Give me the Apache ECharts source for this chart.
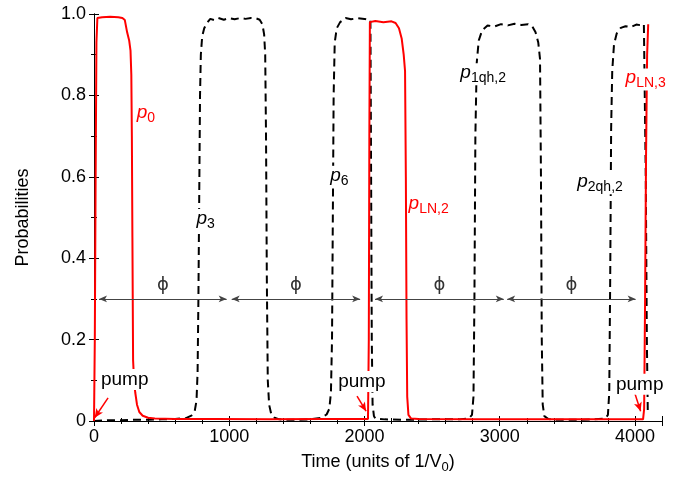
<!DOCTYPE html>
<html>
<head>
<meta charset="utf-8">
<script src="https://cdn.jsdelivr.net/npm/echarts@6/dist/echarts.min.js"></script>
<style>
  html, body { margin: 0; background: #fff; }
  #main { width: 680px; height: 479px; }
</style>
</head>
<body>
<div id="main"></div>
<script>
  // red curves: p0, p_LN,2, p_LN,3 (time in units of 1/V0)
  var redT = [0, 6, 12, 18, 25, 60, 120, 180, 210, 228, 245, 260, 270, 276, 280, 284, 289, 296, 305, 318,
    335, 360, 400, 450, 600, 900, 1300, 1700, 2000, 2026, 2032, 2036, 2040, 2080, 2140, 2200, 2230, 2255, 2275, 2290,
    2300, 2306, 2311, 2316, 2325, 2345, 2400, 2800, 3300, 3800, 4060, 4068, 4075, 4082, 4090, 4098];
  var redP = [0, 0.2, 0.6, 0.93, 0.99, 0.992, 0.993, 0.992, 0.99, 0.985, 0.955, 0.935, 0.91, 0.85, 0.7, 0.45, 0.15, 0.1, 0.07, 0.04,
    0.022, 0.013, 0.008, 0.006, 0.005, 0.005, 0.004, 0.005, 0.005, 0.005, 0.2, 0.7, 0.98, 0.983, 0.98, 0.982, 0.978, 0.965, 0.94, 0.9,
    0.86, 0.6, 0.25, 0.06, 0.015, 0.006, 0.005, 0.004, 0.004, 0.004, 0.004, 0.03, 0.3, 0.65, 0.9, 0.975];

  // black dashed curves: p3, p6, p_1qh,2, p_2qh,2
  var blackT = [0, 100, 200, 300, 400, 500, 600, 680, 720, 745, 758, 766, 772, 778, 784, 790, 800, 815, 835, 860,
    890, 920, 960, 1000, 1040, 1080, 1120, 1160, 1200, 1225, 1245, 1258, 1266, 1272, 1278, 1285, 1295, 1310, 1335, 1370,
    1420, 1500, 1600, 1680, 1720, 1740, 1752, 1760, 1766, 1772, 1780, 1795, 1820, 1860, 1900, 1950, 2000, 2044, 2049, 2054,
    2060, 2070, 2080, 2150, 2300, 2500, 2700, 2770, 2795, 2806, 2813, 2820, 2830, 2845, 2870, 2910, 2960, 3010, 3060, 3110,
    3160, 3210, 3240, 3265, 3285, 3298, 3305, 3311, 3318, 3330, 3360, 3420, 3550, 3700, 3780, 3800, 3810, 3817, 3824, 3832,
    3845, 3865, 3895, 3930, 3970, 4010, 4050, 4066, 4072, 4080, 4088, 4095];
  var blackP = [0, 0.002, 0.002, 0.003, 0.003, 0.004, 0.005, 0.007, 0.013, 0.025, 0.05, 0.12, 0.3, 0.55, 0.8, 0.9, 0.945, 0.965, 0.978, 0.988,
    0.985, 0.99, 0.986, 0.99, 0.987, 0.99, 0.988, 0.99, 0.989, 0.986, 0.975, 0.95, 0.9, 0.7, 0.35, 0.1, 0.04, 0.018, 0.008, 0.004,
    0.003, 0.003, 0.004, 0.008, 0.016, 0.03, 0.07, 0.2, 0.5, 0.8, 0.93, 0.965, 0.98, 0.99, 0.987, 0.99, 0.988, 0.985, 0.6, 0.2,
    0.04, 0.012, 0.006, 0.004, 0.003, 0.004, 0.004, 0.006, 0.015, 0.06, 0.3, 0.7, 0.88, 0.935, 0.96, 0.972, 0.969, 0.975, 0.972, 0.976,
    0.973, 0.975, 0.97, 0.955, 0.93, 0.89, 0.6, 0.2, 0.04, 0.012, 0.005, 0.003, 0.003, 0.004, 0.006, 0.015, 0.07, 0.35, 0.72, 0.86,
    0.925, 0.952, 0.966, 0.97, 0.968, 0.974, 0.972, 0.975, 0.975, 0.6, 0.2, 0.02];

  // phi spans (double arrows at p = 0.3)
  var phiSpans = [[37, 981], [1018, 1968], [2078, 3030], [3055, 4005]];
  var phiLevel = 0.3;

  // curve labels: [t, p, subscript, colour]
  var curveLabels = [
    [316, 0.754, '0', 'red'],
    [758, 0.494, '3', 'black'],
    [1747, 0.6, '6', 'black'],
    [2326, 0.531, 'LN,2', 'red'],
    [2709, 0.852, '1qh,2', 'black'],
    [3573, 0.584, '2qh,2', 'black'],
    [3931, 0.839, 'LN,3', 'red']
  ];

  // pump labels: text centre and arrow [from, to]
  var pumpText = [[227, 0.102], [1981, 0.097], [4035, 0.09]];
  var pumpArrows = [
    [[104, 0.057], [5, 0.008]],
    [[1945, 0.061], [2012, 0.024]],
    [[3999, 0.068], [4042, 0.024]]
  ];

  var font = '"Liberation Sans", Arial, sans-serif';

  function zip(a, b) {
    return a.map(function (v, i) { return [v, b[i]]; });
  }

  function labelItem(l) {
    return {
      coord: [l[0], l[1]],
      label: {
        formatter: '{p|p}{s|' + l[2] + '}',
        color: l[3],
        rich: {
          p: { fontStyle: 'italic', fontSize: 19, fontFamily: font, color: l[3], verticalAlign: 'top', lineHeight: 22 },
          s: { fontSize: 14, fontFamily: font, color: l[3], verticalAlign: 'bottom', lineHeight: 22, padding: [12, 0, 0, 0] }
        }
      }
    };
  }

  var chart = echarts.init(document.getElementById('main'));

  var tickStyle = { color: '#000', width: 1 };

  chart.setOption({
    animation: false,
    backgroundColor: '#fff',
    grid: { left: 94, right: 18, top: 14, bottom: 54 },
    xAxis: [{
      type: 'value',
      min: 0,
      max: 4200,
      interval: 1000,
      name: 'Time (units of 1/V{s|0})',
      nameLocation: 'middle',
      nameGap: 29,
      nameTextStyle: {
        color: '#000', fontSize: 18, fontFamily: font,
        rich: { s: { fontSize: 13, fontFamily: font, color: '#000', padding: [11, 0, 0, 0] } }
      },
      axisLine: { lineStyle: tickStyle },
      axisTick: { inside: true, length: 5, lineStyle: tickStyle },
      minorTick: { show: true, splitNumber: 5, length: 3, lineStyle: tickStyle },
      splitLine: { show: false },
      axisLabel: {
        color: '#000', fontSize: 18, fontFamily: font, margin: 7, showMaxLabel: false,
        formatter: function (v) { return String(v); }
      }
    }, {
      type: 'value',
      position: 'top',
      min: 0,
      max: 4200,
      interval: 1000,
      axisLine: { lineStyle: tickStyle },
      axisTick: { inside: true, length: 5, lineStyle: tickStyle },
      minorTick: { show: true, splitNumber: 5, length: 3, lineStyle: tickStyle },
      splitLine: { show: false },
      axisLabel: { show: false }
    }],
    yAxis: [{
      type: 'value',
      min: 0,
      max: 1,
      interval: 0.2,
      name: 'Probabilities',
      nameLocation: 'middle',
      nameGap: 62,
      nameTextStyle: { color: '#000', fontSize: 18, fontFamily: font },
      axisLine: { lineStyle: tickStyle },
      axisTick: { inside: true, length: 5, lineStyle: tickStyle },
      minorTick: { show: true, splitNumber: 2, length: 3, lineStyle: tickStyle },
      splitLine: { show: false },
      axisLabel: {
        color: '#000', fontSize: 18, fontFamily: font, margin: 8,
        formatter: function (v) { return v === 0 ? '0' : v.toFixed(1); }
      }
    }, {
      type: 'value',
      position: 'right',
      min: 0,
      max: 1,
      interval: 0.2,
      axisLine: { lineStyle: tickStyle },
      axisTick: { inside: true, length: 5, lineStyle: tickStyle },
      minorTick: { show: true, splitNumber: 2, length: 3, lineStyle: tickStyle },
      splitLine: { show: false },
      axisLabel: { show: false }
    }],
    series: [{
      name: 'black',
      type: 'line',
      showSymbol: false,
      z: 2,
      data: zip(blackT, blackP),
      lineStyle: { color: '#000', width: 2, type: [8, 5] },
      markLine: {
        silent: true,
        symbol: ['arrow', 'arrow'],
        symbolSize: [5, 8],
        label: { show: false },
        lineStyle: { color: '#444', width: 1, type: 'solid' },
        data: phiSpans.map(function (s) {
          return [{ coord: [s[0], phiLevel] }, { coord: [s[1], phiLevel] }];
        })
      },
      markPoint: {
        silent: true,
        symbol: 'circle',
        symbolSize: 0,
        label: { position: 'right', distance: 0, backgroundColor: '#fff' },
        data: curveLabels.filter(function (l) { return l[3] === 'black'; }).map(labelItem)
          .concat(phiSpans.map(function (s) {
            return {
              coord: [(s[0] + s[1]) / 2, phiLevel],
              label: {
                position: 'inside', offset: [0, -14], formatter: '\u03d5',
                color: '#333', fontSize: 18, fontFamily: '"DejaVu Sans"', backgroundColor: 'transparent'
              }
            };
          }))
      }
    }, {
      name: 'red',
      type: 'line',
      showSymbol: false,
      z: 3,
      data: zip(redT, redP),
      lineStyle: { color: '#ff0000', width: 2 },
      markLine: {
        silent: true,
        symbol: ['none', 'arrow'],
        symbolSize: [6, 9],
        label: { show: false },
        lineStyle: { color: '#ff0000', width: 1.5, type: 'solid' },
        data: pumpArrows.map(function (a) {
          return [{ coord: a[0] }, { coord: a[1] }];
        })
      },
      markPoint: {
        silent: true,
        symbol: 'circle',
        symbolSize: 0,
        label: { position: 'right', distance: 0, backgroundColor: '#fff' },
        data: curveLabels.filter(function (l) { return l[3] === 'red'; }).map(labelItem)
          .concat(pumpText.map(function (p) {
            return {
              coord: p,
              label: {
                position: 'inside', formatter: 'pump', color: '#000', fontSize: 19,
                fontFamily: font, backgroundColor: '#fff', padding: [1, 1]
              }
            };
          }))
      }
    }]
  });
</script>
</body>
</html>
